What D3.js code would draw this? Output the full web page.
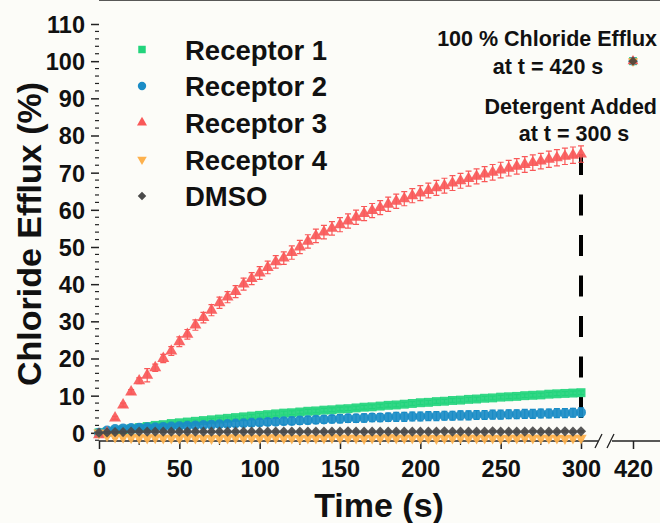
<!DOCTYPE html>
<html>
<head>
<meta charset="utf-8">
<script src="https://cdn.jsdelivr.net/npm/d3@7/dist/d3.min.js"></script>
<style>
  body { margin: 0; background: #fcfcf8; }
  text { font-family: "Liberation Sans", Arial, sans-serif; font-weight: bold; fill: #111; }
</style>
</head>
<body>
<div id="chart"></div>
<script>
// time points (s)
var times = [0,5,10,15,20,25,30,35,40,45,50,55,60,65,70,75,80,85,90,95,100,
  105,110,115,120,125,130,135,140,145,150,155,160,165,170,175,180,185,190,195,200,
  205,210,215,220,225,230,235,240,245,250,255,260,265,270,275,280,285,290,295,300];

var receptor1 = [0,0.2,0.5,0.8,1.1,1.4,1.7,2.0,2.2,2.5,2.7,2.9,3.1,3.3,3.5,3.7,3.9,4.1,4.3,4.5,4.7,
  4.9,5.1,5.3,5.4,5.6,5.8,5.9,6.1,6.2,6.4,6.5,6.7,6.9,7.0,7.2,7.4,7.5,7.7,7.9,8.1,
  8.2,8.4,8.5,8.7,8.8,9.0,9.1,9.3,9.4,9.6,9.7,9.8,10.0,10.1,10.2,10.4,10.5,10.6,10.7,10.8];
var receptor1Err = [0.1,0.2,0.2,0.3,0.3,0.3,0.3,0.3,0.4,0.4,0.4,0.4,0.4,0.4,0.4,0.4,0.4,0.4,0.4,0.4,0.5,
  0.5,0.5,0.5,0.5,0.5,0.5,0.5,0.5,0.5,0.5,0.5,0.5,0.5,0.5,0.5,0.5,0.5,0.5,0.5,0.5,
  0.5,0.5,0.5,0.5,0.5,0.5,0.5,0.5,0.5,0.5,0.5,0.5,0.5,0.5,0.5,0.5,0.5,0.5,0.5,0.5];

var receptor2 = [0,0.6,1.0,1.2,1.3,1.4,1.5,1.5,1.6,1.7,1.8,1.9,2.0,2.1,2.2,2.3,2.4,2.5,2.6,2.7,2.8,
  2.9,3.0,3.1,3.2,3.3,3.4,3.5,3.6,3.7,3.8,3.9,3.9,4.0,4.1,4.1,4.2,4.3,4.3,4.4,4.4,
  4.5,4.5,4.6,4.6,4.7,4.7,4.8,4.8,4.9,4.9,5.0,5.0,5.1,5.1,5.2,5.2,5.3,5.3,5.4,5.5];
var receptor2Err = [0.2,0.3,0.4,0.4,0.5,0.5,0.5,0.6,0.6,0.6,0.6,0.7,0.7,0.7,0.7,0.8,0.8,0.8,0.8,0.9,0.9,
  0.9,0.9,0.9,1.0,1.0,1.0,1.0,1.0,1.0,1.1,1.1,1.1,1.1,1.1,1.1,1.1,1.2,1.2,1.2,1.2,
  1.2,1.2,1.2,1.2,1.2,1.2,1.2,1.2,1.2,1.2,1.2,1.2,1.2,1.2,1.2,1.2,1.2,1.2,1.2,1.2];

var receptor3 = [-0.5,0,4,7.5,11,14,15.5,17.5,20,22,24.5,26.5,29,31,33,35,36.5,38,40,41.5,43,
  44.5,46,47,48.5,50,51.5,53,54,55,56,57,58,59,59.8,60.6,61.5,62.3,63,63.8,64.5,
  65.2,65.9,66.5,67.2,67.8,68.4,69,69.6,70.1,70.7,71.2,71.7,72.2,72.7,73.1,73.6,74,74.4,74.7,75];
var receptor3Err = [0.2,0.3,0.4,0.5,0.6,0.8,1.8,1.0,1.1,1.2,1.3,1.3,1.4,1.4,1.5,1.5,1.5,1.6,1.6,1.6,1.7,
  1.7,1.7,1.7,1.8,1.8,1.8,1.8,1.8,1.8,1.9,1.9,1.9,1.9,1.9,1.9,1.9,1.9,1.9,1.9,2.0,
  2.0,2.0,2.0,2.0,2.0,2.0,2.0,2.0,2.1,2.1,2.1,2.1,2.1,2.1,2.1,2.2,2.2,2.2,2.2,2.2];

var receptor4 = [0,-0.8,-1.1,-1.2,-1.3,-1.3,-1.4,-1.3,-1.4,-1.4,-1.4,-1.3,-1.4,-1.4,-1.5,-1.4,-1.4,-1.3,-1.4,-1.4,-1.4,
  -1.4,-1.3,-1.4,-1.4,-1.5,-1.4,-1.4,-1.4,-1.3,-1.4,-1.4,-1.4,-1.5,-1.4,-1.4,-1.3,-1.4,-1.4,-1.4,-1.4,
  -1.4,-1.5,-1.4,-1.4,-1.3,-1.4,-1.4,-1.4,-1.4,-1.5,-1.4,-1.4,-1.3,-1.4,-1.4,-1.4,-1.4,-1.5,-1.4,-1.4];
var receptor4Err = [0.1,0.3,0.4,0.4,0.5,0.5,0.5,0.5,0.5,0.5,0.5,0.5,0.5,0.5,0.5,0.5,0.5,0.5,0.5,0.5,0.5,
  0.5,0.5,0.5,0.5,0.5,0.5,0.5,0.5,0.5,0.5,0.5,0.5,0.5,0.5,0.5,0.5,0.5,0.5,0.5,0.5,
  0.5,0.5,0.5,0.5,0.5,0.5,0.5,0.5,0.5,0.5,0.5,0.5,0.5,0.5,0.5,0.5,0.5,0.5,0.5,0.5];

var dmso = [0,0.1,0.2,0.2,0.3,0.3,0.3,0.3,0.3,0.3,0.3,0.3,0.3,0.3,0.3,0.3,0.3,0.3,0.3,0.3,0.3,
  0.3,0.3,0.3,0.3,0.3,0.3,0.3,0.3,0.3,0.3,0.4,0.3,0.3,0.3,0.3,0.3,0.3,0.3,0.3,0.3,
  0.3,0.3,0.4,0.3,0.3,0.3,0.3,0.3,0.4,0.3,0.3,0.3,0.3,0.4,0.3,0.3,0.3,0.4,0.3,0.4];
var dmsoErr = [0.1,0.2,0.2,0.2,0.2,0.2,0.2,0.2,0.2,0.2,0.2,0.2,0.2,0.2,0.2,0.2,0.2,0.2,0.2,0.2,0.2,
  0.2,0.2,0.2,0.2,0.2,0.2,0.2,0.2,0.2,0.2,0.2,0.2,0.2,0.2,0.2,0.2,0.2,0.2,0.2,0.2,
  0.2,0.2,0.2,0.2,0.2,0.2,0.2,0.2,0.2,0.2,0.2,0.2,0.2,0.2,0.2,0.2,0.2,0.2,0.2,0.2];

var seriesNames = ["Receptor 1", "Receptor 2", "Receptor 3", "Receptor 4", "DMSO"];
var seriesValues = [receptor1, receptor2, receptor3, receptor4, dmso];
var seriesErrors = [receptor1Err, receptor2Err, receptor3Err, receptor4Err, dmsoErr];
var seriesColors = ["#22d47c", "#1a8cc6", "#f95858", "#fdb14d", "#4a4a4a"];

// after detergent: full efflux point
var finalTime = 420;
var finalValue = 100;
var detergentTime = 300;

var xTicks = [0, 50, 100, 150, 200, 250, 300];
var xMinorTicks = [25, 75, 125, 175, 225, 275];
var yTicks = [0, 10, 20, 30, 40, 50, 60, 70, 80, 90, 100, 110];

var width = 660, height = 523;

var svg = d3.select("#chart").append("svg")
    .attr("width", width)
    .attr("height", height);

svg.append("rect").attr("width", width).attr("height", height).attr("fill", "#fcfcf8");

// piecewise x: 0..300 then a break before 420
var x = d3.scaleLinear().domain([0, 300, 420]).range([99, 581, 633]);
var y = d3.scaleLinear().domain([-2.2, 110]).range([441, 24]);

var left = x(0), right = width, top = y(110), bottom = y(-2.2);

// frame: top line and y axis
svg.append("line")
    .attr("x1", left).attr("x2", right).attr("y1", top).attr("y2", top)
    .attr("stroke", "#222").attr("stroke-width", 1.5);

var yAxis = svg.append("g")
    .attr("transform", "translate(" + left + ",0)")
    .call(d3.axisLeft(y).tickValues(yTicks).tickSize(8).tickPadding(6));
yAxis.select(".domain").attr("stroke", "#222").attr("stroke-width", 1.5)
    .attr("d", "M0," + top + "V" + bottom);
yAxis.selectAll(".tick line").attr("stroke", "#222").attr("stroke-width", 1.5);
yAxis.selectAll(".tick text").style("font-size", "23.5px").attr("dy", "0.36em");

var yMinor = d3.range(-2, 110, 2).filter(function(v) { return v % 10 !== 0; });
svg.append("g").selectAll("line").data(yMinor).enter().append("line")
    .attr("x1", left - 4).attr("x2", left)
    .attr("y1", function(d) { return y(d); }).attr("y2", function(d) { return y(d); })
    .attr("stroke", "#222").attr("stroke-width", 1.2);

// x axis with a break
var xAxis = svg.append("g")
    .attr("transform", "translate(0," + bottom + ")")
    .call(d3.axisBottom(x).tickValues(xTicks.concat([finalTime])).tickSize(8).tickPadding(11));
xAxis.select(".domain").remove();
xAxis.selectAll(".tick line").attr("stroke", "#222").attr("stroke-width", 1.5);
xAxis.selectAll(".tick text").style("font-size", "23.5px");

svg.append("g").selectAll("line").data(xMinorTicks).enter().append("line")
    .attr("x1", function(d) { return x(d); }).attr("x2", function(d) { return x(d); })
    .attr("y1", bottom).attr("y2", bottom + 4)
    .attr("stroke", "#222").attr("stroke-width", 1.2);

var breakL = 598, breakR = 612;
svg.append("path")
    .attr("d", "M" + left + "," + bottom + "H" + breakL + "M" + breakR + "," + bottom + "H" + right)
    .attr("stroke", "#222").attr("stroke-width", 1.5).attr("fill", "none");
svg.append("path")
    .attr("d", "M" + (breakL - 3) + "," + (bottom + 7) + "L" + (breakL + 4) + "," + (bottom - 7) +
               "M" + (breakR - 5) + "," + (bottom + 7) + "L" + (breakR + 2) + "," + (bottom - 7))
    .attr("stroke", "#222").attr("stroke-width", 1.3).attr("fill", "none");

// dashed detergent line
svg.append("line")
    .attr("x1", x(detergentTime)).attr("x2", x(detergentTime))
    .attr("y1", y(receptor3[receptor3.length - 1])).attr("y2", y(0))
    .attr("stroke", "#000").attr("stroke-width", 4)
    .attr("stroke-dasharray", "21,19.5");

function symbolPath(i, scale) {
    var s = scale || 1;
    if (i === 0) return d3.symbol().type(d3.symbolSquare).size(80 * s)();
    if (i === 1) return d3.symbol().type(d3.symbolCircle).size(78 * s)();
    if (i === 2) return d3.symbol().type(d3.symbolTriangle).size(62 * s)();
    if (i === 3) return d3.symbol().type(d3.symbolTriangle).size(56 * s)();
    return d3.symbol().type(d3.symbolSquare).size(52 * s)();
}
function symbolRotate(i) {
    if (i === 3) return " rotate(180)";
    if (i === 4) return " rotate(45)";
    return "";
}

var plot = svg.append("g");
seriesValues.forEach(function(vals, i) {
    var g = plot.append("g");
    var errs = seriesErrors[i];
    var pts = times.map(function(t, k) { return { t: t, v: vals[k], e: errs[k] }; });
    g.selectAll(".err").data(pts).enter().append("path")
        .attr("d", function(d) {
            var cx = x(d.t), y1 = y(d.v + d.e), y2 = y(d.v - d.e);
            return "M" + cx + "," + y1 + "V" + y2 +
                   "M" + (cx - 3) + "," + y1 + "H" + (cx + 3) +
                   "M" + (cx - 3) + "," + y2 + "H" + (cx + 3);
        })
        .attr("stroke", seriesColors[i]).attr("stroke-width", 1.2).attr("fill", "none");
    g.selectAll(".pt").data(pts).enter().append("path")
        .attr("d", symbolPath(i))
        .attr("transform", function(d) {
            return "translate(" + x(d.t) + "," + y(d.v) + ")" + symbolRotate(i);
        })
        .attr("fill", seriesColors[i])
        .attr("fill-opacity", 0.92);
});

// 100 % point at t = 420 (all series overlap)
seriesValues.forEach(function(vals, i) {
    plot.append("path")
        .attr("d", symbolPath(i, 0.8))
        .attr("transform", "translate(" + x(finalTime) + "," + y(finalValue) + ")" + symbolRotate(i))
        .attr("fill", i === 4 ? "#5a4a3c" : seriesColors[i]);
});

// legend
var legendRows = [49.5, 86, 122.5, 159.5, 196];
var legend = svg.append("g");
seriesNames.forEach(function(name, i) {
    legend.append("path")
        .attr("d", symbolPath(i, 0.7))
        .attr("transform", "translate(142," + legendRows[i] + ")" + symbolRotate(i))
        .attr("fill", seriesColors[i]);
    legend.append("text")
        .attr("x", 185).attr("y", legendRows[i] + 10)
        .style("font-size", "27.5px")
        .text(name);
});

// annotations
var notes = [
    { text: "100 % Chloride Efflux", x: 657, y: 45.5, anchor: "end" },
    { text: "at t = 420 s", x: 548, y: 73.5, anchor: "middle" },
    { text: "Detergent Added", x: 657, y: 113.5, anchor: "end" },
    { text: "at t = 300 s", x: 574, y: 141, anchor: "middle" }
];
svg.append("g").selectAll("text").data(notes).enter().append("text")
    .attr("x", function(d) { return d.x; })
    .attr("y", function(d) { return d.y; })
    .attr("text-anchor", function(d) { return d.anchor; })
    .style("font-size", "21.5px")
    .text(function(d) { return d.text; });

// axis titles
svg.append("text")
    .attr("transform", "translate(41,234) rotate(-90)")
    .attr("text-anchor", "middle")
    .style("font-size", "34px")
    .text("Chloride Efflux (%)");

svg.append("text")
    .attr("x", 379).attr("y", 517)
    .attr("text-anchor", "middle")
    .style("font-size", "34px")
    .text("Time (s)");
</script>
</body>
</html>
